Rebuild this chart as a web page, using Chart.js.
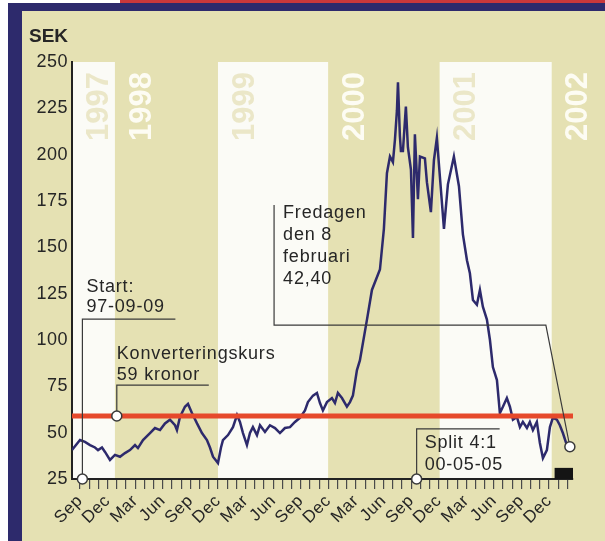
<!DOCTYPE html>
<html>
<head>
<meta charset="utf-8">
<script src="https://cdn.jsdelivr.net/npm/chart.js@4.4.1/dist/chart.umd.min.js"></script>
<style>
  html, body { margin: 0; padding: 0; background: #fff; }
  canvas { display: block; }
</style>
</head>
<body>
<canvas id="chart" width="605" height="541"></canvas>
<script>
// x values are months counted from 1 Sep 1997
const months = [
  -0.87, 0.0, 0.54, 1.09, 1.63, 1.96, 2.39, 2.72, 3.26, 3.8, 4.35, 4.89, 5.43, 5.98, 6.3, 6.85,
  7.61, 8.15, 8.7, 9.24, 9.78, 10.33, 10.54, 10.87, 11.41, 11.74, 12.17, 12.72, 13.26, 13.8, 14.13,
  14.46, 15.0, 15.33, 15.54, 16.09, 16.63, 17.07, 17.39, 17.72, 18.15, 18.48, 18.8, 19.24, 19.57,
  20.11, 20.65, 21.2, 21.74, 22.28, 22.83, 23.37, 23.91, 24.46, 24.78, 25.33, 25.76, 26.09, 26.41,
  26.85, 27.39, 27.72, 28.04, 28.48, 29.02, 29.35, 29.67, 30.11, 30.43, 31.2, 31.74, 32.61, 33.04,
  33.37, 33.7, 34.02, 34.24, 34.46, 34.57, 34.78, 34.89, 35.11, 35.43, 35.65, 35.98, 36.2, 36.41,
  36.74, 36.96, 37.5, 37.72, 38.15, 38.48, 38.8, 39.13, 39.57, 40.0, 40.65, 41.2, 41.63, 42.07,
  42.39, 42.72, 43.15, 43.48, 43.8, 44.24, 44.57, 44.89, 45.33, 45.65, 45.98, 46.41, 46.74, 47.07,
  47.5, 47.83, 48.15, 48.59, 48.91, 49.24, 49.67, 50.0, 50.33, 50.76, 51.09, 51.41, 51.85, 52.17,
  52.5, 52.93, 53.26
];
const sek = [
  40.6, 46, 45, 43.3, 42, 40.6, 42, 39.6, 35.3, 38, 37, 39, 40.6, 43.3, 41.7, 46,
  49.8, 52.5, 51.4, 55, 57, 54, 51.4, 58.5, 64, 65.5, 60.6, 55, 49.8, 46, 42,
  37, 33.6, 42, 46, 48.7, 53, 59.5, 55.8, 49.8, 43.3, 49.8, 53, 48.7, 54,
  50.4, 54, 52.5, 49.8, 52.5, 53, 55.8, 58, 62, 66.5, 70, 71.4, 66, 62,
  66.5, 68.7, 66, 71.4, 68.7, 64, 66.5, 70, 83.8, 89, 111, 127, 138, 160,
  190, 199, 196, 208, 224, 239, 210, 202, 202, 226, 204, 192, 155, 211,
  176, 199, 198, 185, 169, 197, 209, 188, 160, 184, 199, 183, 157, 143,
  136, 121.6, 119, 127, 118, 111, 100, 85.4, 78.4, 60.6, 64, 68.7, 64, 57,
  58.5, 53, 55.8, 52.5, 55.8, 51.4, 55.8, 44.4, 36.3, 40.6, 53, 58, 57, 54,
  49.8, 43.3, 42.4
];
const conversionRate = 59;
const tickNames = ['Sep', 'Dec', 'Mar', 'Jun'];
const years = ['1997', '1998', '1999', '2000', '2001', '2002'];
const yearStarts = [-0.87, 3.8, 15.0, 27.0, 39.1, 51.3];
const startMonth = 0.26;   // 97-09-09
const splitMonth = 36.6;
const xMin = -0.87, xMax = 53.6;

const BEIGE = '#e5e1b3';
const WHITE = '#fbfbf6';
const NAVY = '#2d2a6c';
const INK = '#262626';
const FONT = '"Liberation Sans", Arial, sans-serif';

const decor = {
  id: 'decor',
  beforeDraw(chart) {
    const { ctx, chartArea: a, scales: { x } } = chart;
    ctx.save();
    ctx.fillStyle = BEIGE;
    ctx.fillRect(0, 0, 605, 541);
    // frame
    ctx.fillStyle = '#ffffff';
    ctx.fillRect(0, 0, 8, 541);
    ctx.fillRect(0, 0, 605, 3);
    ctx.fillStyle = '#c9383b';
    ctx.fillRect(120, 0, 485, 3);
    ctx.fillStyle = NAVY;
    ctx.fillRect(8, 3, 597, 8);
    ctx.fillRect(8, 3, 14, 538);

    // year bands
    yearStarts.forEach((s, i) => {
      const x0 = Math.max(x.getPixelForValue(s), a.left);
      const x1 = i < yearStarts.length - 1 ? x.getPixelForValue(yearStarts[i + 1]) : a.right;
      ctx.fillStyle = i % 2 ? BEIGE : WHITE;
      ctx.fillRect(x0, a.top, x1 - x0, a.bottom - a.top);
    });
    yearStarts.forEach((s, i) => {
      const x0 = Math.max(x.getPixelForValue(s), a.left);
      ctx.save();
      ctx.translate(x0 + 27, a.top + 79);
      ctx.rotate(-Math.PI / 2);
      ctx.font = 'bold 31px ' + FONT;
      ctx.textAlign = 'left';
      ctx.textBaseline = 'middle';
      ctx.fillStyle = i % 2 ? '#fdfcf3' : '#ebe7c8';
      ctx.fillText(years[i], 0, 0);
      ctx.restore();
    });

    ctx.fillStyle = INK;
    ctx.font = 'bold 19px ' + FONT;
    ctx.fillText('SEK', 29, 42);
    ctx.restore();
    ctx.letterSpacing = '0.5px';
  },
  afterDraw(chart) {
    const { ctx, chartArea: a, scales: { x, y } } = chart;
    const px = v => x.getPixelForValue(v);
    const py = v => y.getPixelForValue(v);
    const path = pts => {
      ctx.beginPath();
      pts.forEach(([u, v], i) => (i ? ctx.lineTo(u, v) : ctx.moveTo(u, v)));
      ctx.stroke();
    };
    const circle = (u, v) => {
      ctx.beginPath();
      ctx.arc(u, v, 5, 0, Math.PI * 2);
      ctx.fillStyle = '#ffffff';
      ctx.fill();
      ctx.stroke();
    };
    const label = (lines, u, v, gap) => {
      ctx.fillStyle = INK;
      ctx.font = '18px ' + FONT;
      ctx.letterSpacing = '0.8px';
      ctx.textAlign = 'left';
      ctx.textBaseline = 'alphabetic';
      lines.forEach((t, i) => ctx.fillText(t, u, v + i * gap));
    };

    ctx.save();
    ctx.strokeStyle = '#3a3a3a';
    ctx.lineWidth = 1.2;

    // Start
    const sx = px(startMonth), sTop = py(111.3);
    path([[sx + 93, sTop], [sx, sTop], [sx, py(25)]]);
    // Konverteringskurs
    const kx = px(4.0), kTop = py(75.7);
    path([[kx + 92, kTop], [kx, kTop], [kx, py(conversionRate)]]);
    // Fredagen den 8 februari
    const fx = px(21.1), fTop = py(172.9), fBot = py(108);
    const lx = px(months[months.length - 1]), ly = py(sek[sek.length - 1]);
    path([[fx, fTop], [fx, fBot], [px(50.65), fBot], [lx, ly]]);
    // Split
    const spx = px(splitMonth), spTop = py(52);
    path([[spx + 83, spTop], [spx, spTop], [spx, py(25)]]);

    ctx.fillStyle = '#141414';
    ctx.fillRect(px(51.6), py(31), a.right - px(51.6), py(25) - py(31));

    ctx.lineWidth = 1.5;
    circle(sx, py(25));
    circle(kx, py(conversionRate));
    circle(spx, py(25));
    circle(lx, ly);

    label(['Start:', '97-09-09'], sx + 4, sTop - 27, 20);
    label(['Konverteringskurs', '59 kronor'], kx, kTop - 26, 21);
    label(['Fredagen', 'den 8', 'februari', '42,40'], fx + 9, fTop + 13, 22);
    label(['Split 4:1', '00-05-05'], spx + 8, spTop + 19, 22);
    ctx.restore();
  }
};

new Chart(document.getElementById('chart'), {
  type: 'line',
  data: {
    datasets: [
      {
        data: [{ x: xMin, y: conversionRate }, { x: xMax, y: conversionRate }],
        borderColor: '#e6492b',
        borderWidth: 5,
        pointRadius: 0
      },
      {
        data: months.map((m, i) => ({ x: m, y: sek[i] })),
        borderColor: NAVY,
        borderWidth: 2.5,
        pointRadius: 0,
        tension: 0
      }
    ]
  },
  options: {
    responsive: false,
    animation: false,
    events: [],
    layout: { padding: { top: 62, right: 32, left: 0, bottom: 0 } },
    plugins: { legend: { display: false }, tooltip: { enabled: false } },
    scales: {
      x: {
        type: 'linear',
        min: xMin,
        max: xMax,
        afterFit: s => { s.height = 62; },
        grid: { display: true, drawOnChartArea: false, drawTicks: true, tickLength: 10, color: '#4a4a4a', lineWidth: 1.2 },
        border: { display: true, color: '#222', width: 2 },
        ticks: {
          stepSize: 1,
          includeBounds: false,
          autoSkip: false,
          minRotation: 45,
          maxRotation: 45,
          padding: 2,
          color: INK,
          font: { family: FONT, size: 17 },
          callback: v => (Number.isInteger(v) && v >= 0 && v % 3 === 0 ? tickNames[(v / 3) % 4] : '')
        }
      },
      y: {
        min: 25,
        max: 250,
        afterFit: s => { s.width = 72; },
        grid: { display: false, drawTicks: false },
        border: { display: true, color: '#222', width: 2 },
        ticks: {
          stepSize: 25,
          padding: 4,
          color: INK,
          font: { family: FONT, size: 18 }
        }
      }
    }
  },
  plugins: [decor]
});
</script>
</body>
</html>
